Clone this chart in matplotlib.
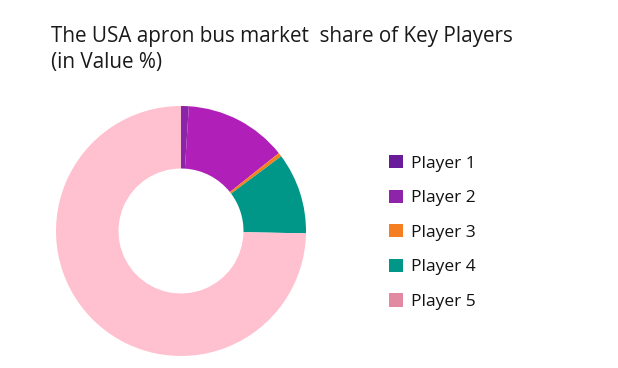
import matplotlib
matplotlib.use("Agg")
import matplotlib.pyplot as plt
from matplotlib.patches import Patch

plt.rcParams['font.family'] = ['Open Sans', 'DejaVu Sans']

players = ['Player 1', 'Player 2', 'Player 3', 'Player 4', 'Player 5']
shares = [1.0, 13.3, 0.5, 10.5, 74.7]
wedge_colors = ['#8a24a8', '#b01fb8', '#f58220', '#009688', '#ffc0cf']
legend_colors = ['#6a1b9a', '#8e24aa', '#f57f20', '#009688', '#e38aa3']

fig = plt.figure(figsize=(6.18, 3.68), dpi=100)
ax = fig.add_axes([56 / 618, 12 / 368, 250 / 618, 250 / 368])

ax.pie(shares, colors=wedge_colors, startangle=90, counterclock=False,
       radius=1.0, wedgeprops=dict(width=0.5, edgecolor='none'))
ax.set_xlim(-1, 1)
ax.set_ylim(-1, 1)
ax.set_aspect('equal')
ax.axis('off')

fig.text(51 / 618, 1 - 26 / 368, 'The USA apron bus market  share of Key Players\n(in Value %)',
         fontsize=14.9, color='#1a1a1a', ha='left', va='top', linespacing=1.3)

handles = [Patch(facecolor=c, edgecolor='none') for c in legend_colors]
fig.legend(handles, players, loc='upper left', bbox_to_anchor=(389 / 618, 1 - 155 / 368),
           frameon=False, fontsize=12.5, handlelength=0.8, handleheight=0.8,
           handletextpad=0.45, labelspacing=1.03, borderpad=0, borderaxespad=0,
           labelcolor='#111111')

fig.savefig('out.png', dpi=100)
